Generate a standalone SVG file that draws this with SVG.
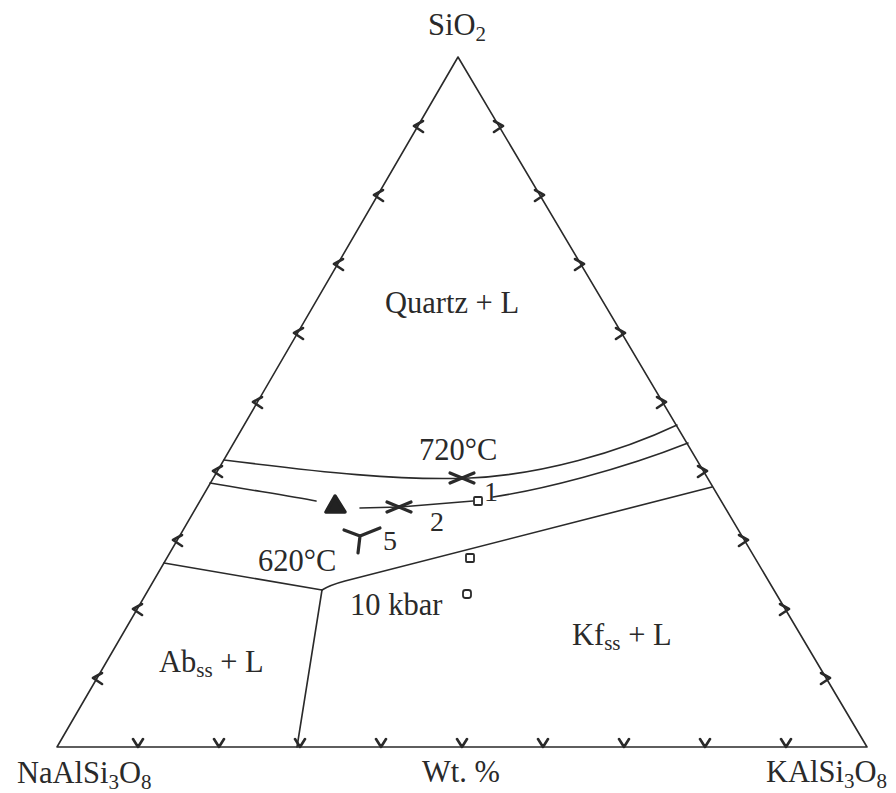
<svg xmlns="http://www.w3.org/2000/svg" width="896" height="793" viewBox="0 0 896 793">
<style>
.ln{fill:none;stroke:#2a2a2a;stroke-width:1.6;stroke-linejoin:round;stroke-linecap:round}
.tk{fill:none;stroke:#2a2a2a;stroke-width:2.6;stroke-linejoin:round;stroke-linecap:round}
.mk{fill:none;stroke:#2a2a2a;stroke-width:3.2;stroke-linejoin:round;stroke-linecap:round}
.sq{fill:none;stroke:#2a2a2a;stroke-width:1.8}
.t{font-family:"Liberation Serif","Times New Roman",serif;font-size:30.5px;fill:#2a2a2a}
.n{font-family:"Liberation Serif","Times New Roman",serif;font-size:28px;fill:#2a2a2a}
</style>
<rect width="896" height="793" fill="#fff"/>
<g id="triangle">
<path class="ln" d="M458,57 L867,747 L57,747 Z"/>
</g>
<g id="ticks">
<path class="tk" d="M133,739 L138,747 L143,739 M214,739 L219,747 L224,739 M295,739 L300,747 L305,739 M376,739 L381,747 L386,739 M457,739 L462,747 L467,739 M538,739 L543,747 L548,739 M619,739 L624,747 L629,739 M700,739 L705,747 L710,739 M781,739 L786,747 L791,739"/>
<path class="tk" d="M102,673 L93,678 L102,684 M142,604 L133,609 L142,615 M182,535 L173,540 L182,546 M222,466 L213,471 L222,477 M262,397 L253,402 L262,408 M303,328 L294,333 L303,339 M343,259 L334,264 L343,270 M383,190 L374,195 L383,201 M423,121 L414,126 L423,132"/>
<path class="tk" d="M821,673 L830,678 L821,684 M780,604 L789,609 L780,615 M739,535 L748,540 L739,546 M698,466 L707,471 L698,477 M657,397 L666,402 L657,408 M616,328 L625,333 L616,339 M575,259 L584,264 L575,270 M535,190 L544,195 L535,201 M494,121 L503,126 L494,132"/>
</g>
<g id="connectors">
<path id="curve-720" class="ln" d="M224,460 C320,472 400,481 470,478 C540,475 620,452 677,425"/>
<path id="curve-mid-left" class="ln" d="M210,483 C250,490 290,496 316,501"/>
<path id="curve-mid-center" class="ln" d="M360,508 L400,507 L473,501"/>
<path id="curve-mid-right" class="ln" d="M493,497 C540,490 620,470 688,443"/>
<path id="boundary-kf" class="ln" d="M322,590 Q330,585 345,581 L712,487"/>
<path id="boundary-ab-q" class="ln" d="M164,563 L322,590"/>
<path id="boundary-ab-kf" class="ln" d="M322,590 L297,747"/>
</g>
<g id="markers">
<path class="mk" d="M450,473 L462,478 L450,483 M474,473 L462,478 L474,483"/>
<path class="mk" d="M387,502 L399,507 L387,512 M411,502 L399,507 L411,512"/>
<polygon points="326,512 345,512 335,496" fill="#222" stroke="#222" stroke-width="3.5" stroke-linejoin="round"/>
<path class="mk" d="M344,530 L360,536 L380,528 M360,536 L358,553"/>
</g>
<g id="samples">
<rect class="sq" x="474" y="497" width="8" height="8" rx="1"/>
<rect class="sq" x="466" y="554" width="8" height="8" rx="1"/>
<rect class="sq" x="463" y="590" width="8" height="8" rx="2.5"/>
</g>
<g id="labels">
<text class="t" x="428" y="35">SiO<tspan font-size="21" dy="6">2</tspan></text>
<text class="t" x="385" y="313">Quartz + L</text>
<text class="t" x="419" y="460">720°C</text>
<text class="t" x="258" y="571">620°C</text>
<text class="t" x="350" y="615">10 kbar</text>
<text class="n" x="484" y="501">1</text>
<text class="n" x="430" y="531">2</text>
<text class="n" x="383" y="550">5</text>
<text class="t" x="159" y="672">Ab<tspan font-size="21" dy="5">ss</tspan><tspan dy="-5"> + L</tspan></text>
<text class="t" x="572" y="645">Kf<tspan font-size="21" dy="5">ss</tspan><tspan dy="-5"> + L</tspan></text>
<text class="t" x="17" y="783">NaAlSi<tspan font-size="21" dy="6">3</tspan><tspan dy="-6">O</tspan><tspan font-size="21" dy="6">8</tspan></text>
<text class="t" x="422" y="782">Wt. %</text>
<text class="t" x="766" y="782">KAlSi<tspan font-size="21" dy="6">3</tspan><tspan dy="-6">O</tspan><tspan font-size="21" dy="6">8</tspan></text>
</g>
</svg>
